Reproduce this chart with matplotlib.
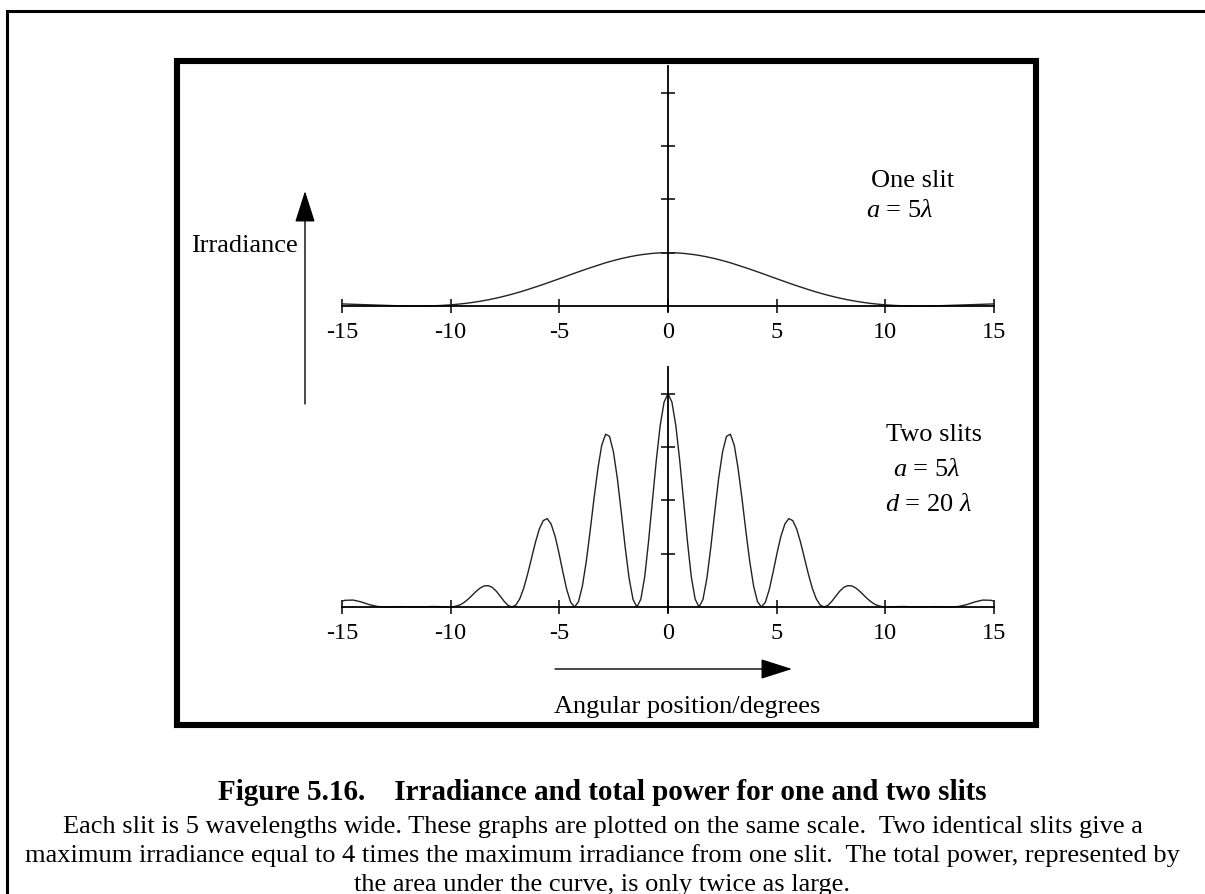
import numpy as np
import matplotlib.pyplot as plt
from matplotlib.patches import Rectangle, FancyArrowPatch

plt.rcParams['font.family'] = 'Liberation Serif'
plt.rcParams['mathtext.fontset'] = 'custom'
plt.rcParams['mathtext.rm'] = 'Liberation Serif'
plt.rcParams['mathtext.it'] = 'Liberation Serif:italic'

# angle (degrees) and irradiance, right half (curves are symmetric)
theta_one = [0.00, 0.36, 0.72, 1.07, 1.43, 1.79, 2.15, 2.51, 2.87, 3.22, 3.58, 3.94, 4.30,
             4.66, 5.02, 5.38, 5.74, 6.10, 6.46, 6.82, 7.18, 7.54, 7.90, 8.26, 8.63, 8.99,
             9.35, 9.72, 10.08, 10.44, 10.81, 11.17, 11.54, 11.90, 12.27, 12.64, 13.00,
             13.37, 13.74, 14.11, 14.48, 14.85, 15.00]
irr_one = [1.000, 0.997, 0.987, 0.971, 0.950, 0.922, 0.890, 0.852, 0.811, 0.765, 0.717,
           0.667, 0.615, 0.562, 0.509, 0.457, 0.405, 0.356, 0.308, 0.263, 0.221, 0.183,
           0.148, 0.117, 0.090, 0.067, 0.047, 0.032, 0.019, 0.010, 0.004, 0.001, 0.000,
           0.001, 0.003, 0.007, 0.012, 0.017, 0.022, 0.027, 0.032, 0.037, 0.039]

theta_two = [0.00, 0.18, 0.36, 0.54, 0.72, 0.90, 1.07, 1.25, 1.43, 1.61, 1.79, 1.97, 2.15,
             2.33, 2.51, 2.69, 2.87, 3.05, 3.22, 3.40, 3.58, 3.76, 3.94, 4.12, 4.30, 4.48,
             4.66, 4.84, 5.02, 5.20, 5.38, 5.56, 5.74, 5.92, 6.10, 6.28, 6.46, 6.64, 6.82,
             7.00, 7.18, 7.36, 7.54, 7.72, 7.90, 8.08, 8.26, 8.45, 8.63, 8.81, 8.99, 9.17,
             9.35, 9.53, 9.72, 9.90, 10.08, 10.44, 10.81, 11.17, 11.54, 11.90, 12.27, 12.64,
             13.00, 13.37, 13.74, 14.11, 14.48, 14.85, 15.00]
irr_two = [4.000, 3.845, 3.404, 2.745, 1.974, 1.210, 0.569, 0.146, 0.000, 0.143, 0.540,
           1.119, 1.779, 2.410, 2.910, 3.201, 3.242, 3.034, 2.613, 2.051, 1.435, 0.855,
           0.391, 0.098, 0.000, 0.090, 0.329, 0.661, 1.018, 1.335, 1.559, 1.658, 1.621,
           1.463, 1.214, 0.917, 0.616, 0.352, 0.154, 0.037, 0.000, 0.031, 0.107, 0.204,
           0.296, 0.366, 0.400, 0.397, 0.360, 0.300, 0.228, 0.157, 0.095, 0.048, 0.019,
           0.004, 0.000, 0.006, 0.009, 0.004, 0.000, 0.003, 0.007, 0.004, 0.000, 0.010,
           0.044, 0.094, 0.130, 0.126, 0.111]

x_ticks = [-15, -10, -5, 0, 5, 10, 15]
y_ticks = [1, 2, 3, 4]


def mirror(th, v):
    th = np.asarray(th)
    v = np.asarray(v)
    return np.concatenate([-th[:0:-1], th]), np.concatenate([v[:0:-1], v])


W, H = 1205, 895
fig = plt.figure(figsize=(W / 100, H / 100), dpi=100)


def fx(p):
    return p / W


def fy(p):
    return 1 - p / H


# pixel layout
x_left, x_right = 342, 994
unit = 53.3
y_lo, y_hi = -0.1, 4.5


def make_axes(zero_row):
    bottom = zero_row - y_lo * unit
    top = zero_row - y_hi * unit
    ax = fig.add_axes([fx(x_left), fy(bottom), fx(x_right - x_left), (bottom - top) / H])
    ax.set_xlim(-15, 15)
    ax.set_ylim(y_lo, y_hi)
    ax.patch.set_visible(False)
    ax.spines['left'].set_position(('data', 0))
    ax.spines['bottom'].set_position(('data', 0))
    ax.spines['top'].set_visible(False)
    ax.spines['right'].set_visible(False)
    for s in ('left', 'bottom'):
        ax.spines[s].set_linewidth(1.3)
    ax.set_xticks(x_ticks)
    ax.set_xticklabels([str(t) for t in x_ticks])
    ax.set_yticks(y_ticks)
    ax.set_yticklabels([])
    ax.tick_params(direction='inout', length=10, width=1.1, labelsize=17.5, pad=6)
    return ax


ax1 = make_axes(307)
th, v = mirror(theta_one, irr_one)
ax1.plot(th, v, color='#222222', lw=1.0, clip_on=False)

ax2 = make_axes(608)
th, v = mirror(theta_two, irr_two)
ax2.plot(th, v, color='#222222', lw=1.0, clip_on=False)

# frames
fig.add_artist(Rectangle((fx(6.5), fy(920)), fx(1220), 1 - fy(920) - (11.5 / H),
                         fill=False, lw=2.2, ec='black', transform=fig.transFigure))
fig.add_artist(Rectangle((fx(176.5), fy(726)), fx(1036 - 176.5), (726 - 62) / H,
                         fill=False, lw=4.4, ec='black', transform=fig.transFigure))

# arrows
arrow_kw = dict(arrowstyle='-|>,head_length=1.1,head_width=0.35', mutation_scale=18,
                lw=1.0, color='black', transform=fig.transFigure, shrinkA=0, shrinkB=0)
fig.add_artist(FancyArrowPatch((fx(305), fy(405)), (fx(305), fy(192)), **arrow_kw))
fig.add_artist(FancyArrowPatch((fx(555), fy(670)), (fx(792), fy(670)), **arrow_kw))

fig.text(fx(298), fy(246), 'Irradiance', fontsize=19, ha='right', va='center')
fig.text(fx(687), fy(707), 'Angular position/degrees', fontsize=19, ha='center', va='center')

fig.text(fx(871), fy(181), 'One slit', fontsize=19, ha='left', va='center')
fig.text(fx(866), fy(211), r'$a$ = 5$\lambda$', fontsize=19, ha='left', va='center')
fig.text(fx(886), fy(435), 'Two slits', fontsize=19, ha='left', va='center')
fig.text(fx(893), fy(470), r'$a$ = 5$\lambda$', fontsize=19, ha='left', va='center')
fig.text(fx(885), fy(505), r'$d$ = 20 $\lambda$', fontsize=19, ha='left', va='center')

# caption
fig.text(0.5, fy(793), 'Figure 5.16.    Irradiance and total power for one and two slits',
         fontsize=21, fontweight='bold', ha='center', va='center')
caption = ['Each slit is 5 wavelengths wide. These graphs are plotted on the same scale.  '
           'Two identical slits give a',
           'maximum irradiance equal to 4 times the maximum irradiance from one slit.  '
           'The total power, represented by',
           'the area under the curve, is only twice as large.']
for i, line in enumerate(caption):
    fig.text(0.5, fy(827 + 29 * i), line, fontsize=19, ha='center', va='center')

fig.savefig('out.png', dpi=100)
